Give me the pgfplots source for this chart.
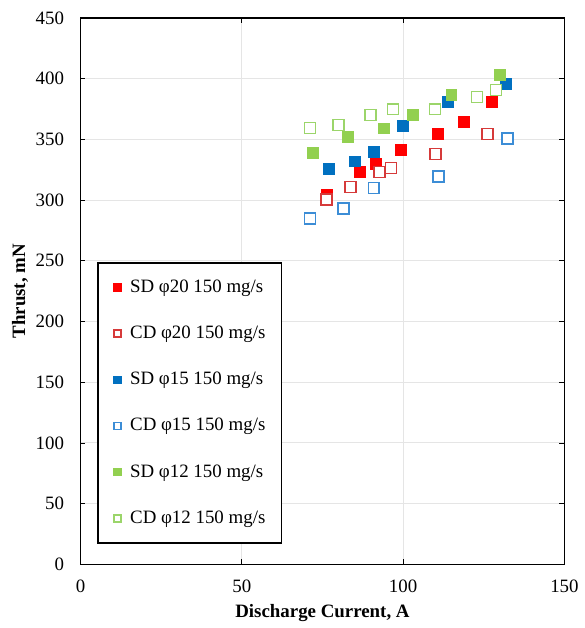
\documentclass[border=0pt]{standalone}
\usepackage{fontspec}
\setmainfont{Liberation Serif}
\usepackage{pgfplots}
\pgfplotsset{compat=1.18}
\definecolor{sdred}{HTML}{FF0000}
\definecolor{cdred}{HTML}{D63A3A}
\definecolor{sdblue}{HTML}{0070C0}
\definecolor{cdblue}{HTML}{3C8DD6}
\definecolor{sdgreen}{HTML}{92D050}
\definecolor{cdgreen}{HTML}{9BD56A}
\begin{document}
\fontsize{19bp}{23bp}\selectfont
\begin{tikzpicture}
\begin{axis}[
  scale only axis, width=487bp, height=550bp,
  xmin=0, xmax=150, ymin=0, ymax=450,
  xtick={0,50,100,150}, ytick={0,50,...,450},
  tick align=inside, major tick length=5bp,
  tick style={black, line width=0.8bp},
  grid=major, grid style={black!10, line width=1bp},
  axis line style={black, line width=1.3bp},
  /pgf/number format/assume math mode=true,
  ticklabel style={font=\fontsize{19bp}{23bp}\selectfont},
  xticklabel style={yshift=-9bp},
  yticklabel style={xshift=-10bp},
  xlabel={\textbf{Discharge Current, A}},
  ylabel={\textbf{Thrust, mN}},
  xlabel style={at={(axis description cs:0.5,-0.089)}, anchor=center},
  ylabel style={at={(axis description cs:-0.125,0.5)}, anchor=center},
  label style={font=\fontsize{19bp}{23bp}\selectfont},
  legend style={at={(0.035,0.038)}, anchor=south west, draw=black, line width=1.3bp,
    font=\fontsize{19bp}{23bp}\selectfont, row sep=27bp, inner xsep=14bp, inner ysep=15bp,
    legend cell align=left},
  legend image code/.code={\path (0bp,0bp) (15bp,0bp); \draw[#1, mark size=3.5bp] plot coordinates {(5bp,0bp)};},
  mark size=5.5bp,
]
\addplot[only marks, mark=square*, color=sdred, mark options={fill=sdred, draw=sdred}] coordinates {
(76.2,304.7) (86.4,323) (91.6,330.3) (99.3,341.2) (110.8,354.9) (118.8,364.7) (127.5,381.1)};
\addlegendentry{SD φ20 150 mg/s}
\addplot[only marks, mark=square*, color=cdred, mark options={fill=white, draw=cdred, line width=1.6bp}] coordinates {
(76.2,300.6) (83.7,310.7) (92.6,323) (96.2,326.5) (110.0,338) (126.2,354.3)};
\addlegendentry{CD φ20 150 mg/s}
\addplot[only marks, mark=square*, color=sdblue, mark options={fill=sdblue, draw=sdblue}] coordinates {
(76.9,326.2) (84.9,332) (90.9,339.9) (100,360.9) (113.9,381.3) (131.9,395.8)};
\addlegendentry{SD φ15 150 mg/s}
\addplot[only marks, mark=square*, color=cdblue, mark options={fill=white, draw=cdblue, line width=1.6bp}] coordinates {
(71.1,284.8) (81.5,293.2) (90.9,309.9) (111,319.4) (132.4,350.8)};
\addlegendentry{CD φ15 150 mg/s}
\addplot[only marks, mark=square*, color=sdgreen, mark options={fill=sdgreen, draw=sdgreen}] coordinates {
(71.9,339.3) (82.8,352.4) (93.9,359.2) (102.9,370.2) (114.9,387.1) (129.9,403.4)};
\addlegendentry{SD φ12 150 mg/s}
\addplot[only marks, mark=square*, color=cdgreen, mark options={fill=white, draw=cdgreen, line width=1.6bp}] coordinates {
(71.1,359.2) (80,361.7) (89.9,369.9) (96.9,374.8) (109.9,374.8) (122.9,384.9) (128.8,390.6)};
\addlegendentry{CD φ12 150 mg/s}
\end{axis}
\path ([xshift=-81bp,yshift=-60bp]current axis.south west) ([xshift=14bp,yshift=18bp]current axis.north east);
\end{tikzpicture}
\end{document}
